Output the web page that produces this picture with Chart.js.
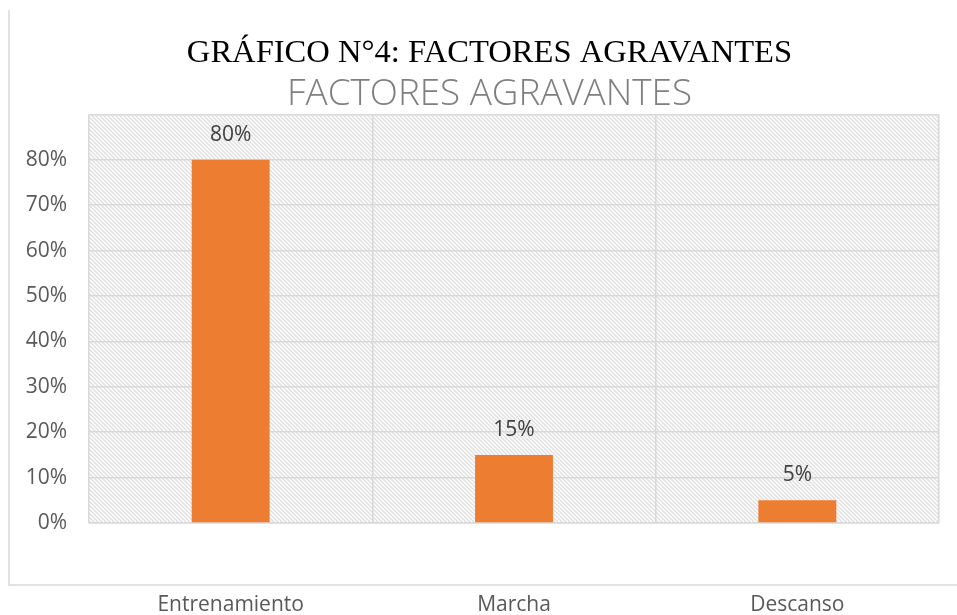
<!DOCTYPE html>
<html lang="es">
<head>
    <meta charset="UTF-8">
    <title>Factores agravantes</title>
    <script src="https://cdn.jsdelivr.net/npm/chart.js"></script>
    <style>
        html, body { margin: 0; padding: 0; background: #ffffff; }
        .chart-container { position: relative; width: 957px; height: 615px; }
    </style>
</head>
<body>
    <div class="chart-container">
        <canvas id="factoresChart"></canvas>
    </div>

    <script>
        // data
        const categories = ['Entrenamiento', 'Marcha', 'Descanso'];
        const values = [80, 15, 5];
        const axisMax = 90;
        const axisStep = 10;

        const textFont = "'Open Sans', 'Noto Sans', sans-serif";

        // diagonal hatch used as plot area fill
        function makeHatch() {
            const c = document.createElement('canvas');
            c.width = 4; c.height = 4;
            const g = c.getContext('2d');
            g.fillStyle = '#ffffff';
            g.fillRect(0, 0, 4, 4);
            g.strokeStyle = '#e0e0e0';
            g.lineWidth = 1.5;
            g.beginPath();
            g.moveTo(-1, -1); g.lineTo(5, 5);
            g.moveTo(-1, 3); g.lineTo(1, 5);
            g.moveTo(3, -1); g.lineTo(5, 1);
            g.stroke();
            return g.createPattern(c, 'repeat');
        }

        const backdrop = {
            id: 'backdrop',
            afterLayout(chart) {
                // titles sit a little right of the canvas centre in the original
                chart.boxes.forEach(b => {
                    if (b.options && typeof b.options.text === 'string') {
                        b.left += 9;
                        b.right += 9;
                    }
                });
            },
            beforeDraw(chart) {
                const { ctx, chartArea: a } = chart;
                ctx.save();
                // outer frame (left and bottom edges visible)
                ctx.strokeStyle = '#d9d9d9';
                ctx.lineWidth = 1.5;
                ctx.beginPath();
                ctx.moveTo(9, 10);
                ctx.lineTo(9, 585);
                ctx.lineTo(957, 585);
                ctx.stroke();
                // hatched plot area
                ctx.fillStyle = makeHatch();
                ctx.fillRect(a.left, a.top, a.right - a.left, a.bottom - a.top);
                ctx.restore();
            }
        };

        const barLabels = {
            id: 'barLabels',
            afterDatasetsDraw(chart) {
                const { ctx } = chart;
                const meta = chart.getDatasetMeta(0);
                ctx.save();
                ctx.fillStyle = '#404040';
                ctx.font = "21px " + textFont;
                ctx.textAlign = 'center';
                ctx.textBaseline = 'middle';
                meta.data.forEach((bar, i) => {
                    ctx.fillText(values[i] + '%', bar.x, bar.y - 25);
                });
                ctx.restore();
            }
        };

        new Chart(document.getElementById('factoresChart'), {
            type: 'bar',
            data: {
                labels: categories,
                datasets: [{
                    data: values,
                    backgroundColor: '#ed7d31',
                    borderWidth: 0,
                    categoryPercentage: 1,
                    barPercentage: 0.275
                }]
            },
            options: {
                responsive: true,
                maintainAspectRatio: false,
                animation: false,
                layout: { padding: { left: 22, right: 18, top: 0, bottom: 0 } },
                plugins: {
                    legend: { display: false },
                    tooltip: { enabled: false },
                    title: {
                        display: true,
                        text: 'GRÁFICO N°4: FACTORES AGRAVANTES',
                        color: '#000000',
                        font: { family: "'Liberation Serif', 'DejaVu Serif', serif", size: 32.6, weight: 'normal', lineHeight: 1.2 },
                        padding: { top: 34, bottom: 0 }
                    },
                    subtitle: {
                        display: true,
                        text: 'FACTORES AGRAVANTES',
                        color: '#7f7f7f',
                        font: { family: textFont, size: 36.8, weight: 300, lineHeight: 1.0 },
                        padding: { top: 2.5, bottom: 2 }
                    }
                },
                scales: {
                    x: {
                        grid: { color: '#d9d9d9', lineWidth: 1.5, offset: true, drawTicks: false },
                        border: { color: '#d9d9d9', width: 1.5 },
                        ticks: { color: '#595959', font: { family: textFont, size: 21 }, padding: 69 },
                        afterFit(scale) { scale.height = 92; }
                    },
                    y: {
                        min: 0,
                        max: axisMax,
                        grid: { color: '#d9d9d9', lineWidth: 1.5, drawTicks: false },
                        border: { display: false },
                        ticks: {
                            stepSize: axisStep,
                            color: '#595959',
                            font: { family: textFont, size: 21 },
                            padding: 22,
                            callback: v => (Math.round(v) >= axisMax ? '' : Math.round(v) + '%')
                        },
                        afterFit(scale) { scale.width = 67; }
                    }
                }
            },
            plugins: [backdrop, barLabels]
        });
    </script>
</body>
</html>
